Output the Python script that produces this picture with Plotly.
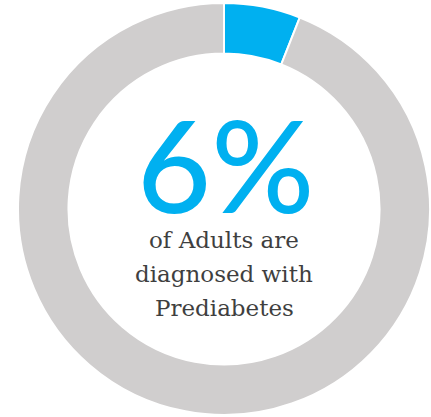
import plotly.graph_objects as go

labels = ["Diagnosed with Prediabetes", "Other"]
values = [6, 94]
colors = ["#00B0F0", "#D0CECE"]
big_label = "6%"
caption_lines = ["of Adults are", "diagnosed with", "Prediabetes"]

W, H = 431, 417
fig = go.Figure(go.Pie(
    labels=labels, values=values, hole=0.755, sort=False,
    direction="clockwise", rotation=0,
    marker=dict(colors=colors, line=dict(color="white", width=2)),
    textinfo="none", hoverinfo="label+percent", showlegend=False,
    domain=dict(x=[18 / W, 430 / W], y=[2 / H, 414 / H]),
))

fig.add_annotation(x=225 / W, y=1 - 163 / H, xref="paper", yref="paper",
                   text=big_label, showarrow=False, xanchor="center", yanchor="middle",
                   font=dict(family="Lato", size=128, color="#00B0F0", weight=500))
ys = [240, 274, 308]
for t, yy in zip(caption_lines, ys):
    fig.add_annotation(x=224 / W, y=1 - yy / H, xref="paper", yref="paper",
                       text=t, showarrow=False, xanchor="center", yanchor="middle",
                       font=dict(family="DejaVu Serif", size=23, color="#3F3F3F"))

fig.update_layout(width=W, height=H, margin=dict(l=0, r=0, t=0, b=0),
                  paper_bgcolor="white", plot_bgcolor="white")
fig.write_html("out.html", config={"displayModeBar": False},
               post_script="document.body.style.margin='0';document.body.style.overflow='hidden';")
